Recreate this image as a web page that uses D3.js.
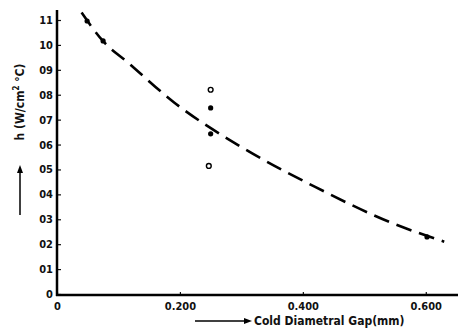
<!DOCTYPE html>
<html>
<head>
<meta charset="utf-8">
<script src="https://cdn.jsdelivr.net/npm/d3@7"></script>
<style>
  body { margin: 0; background: #fff; }
  svg { display: block; }
  text { font-family: "DejaVu Sans Condensed", "DejaVu Sans", sans-serif; font-weight: bold; fill: #111; }
</style>
</head>
<body>
<svg></svg>
<script>
/* data */
var yTicks = [0, 0.1, 0.2, 0.3, 0.4, 0.5, 0.6, 0.7, 0.8, 0.9, 1.0, 1.1];
var yTickLabels = ["0", "01", "02", "03", "04", "05", "06", "07", "08", "09", "10", "11"];
var xTicks = [0, 0.2, 0.4, 0.6];
var xTickLabels = ["0", "0.200", "0.400", "0.600"];

// dashed fit curve
var curveX = [0.04, 0.075, 0.115, 0.19, 0.3, 0.42, 0.545, 0.63];
var curveY = [1.13, 1.015, 0.93, 0.77, 0.59, 0.43, 0.285, 0.21];

// measured points
var filledX = [0.049, 0.075, 0.25, 0.25, 0.602];
var filledY = [1.096, 1.016, 0.747, 0.643, 0.229];
var openX = [0.25, 0.247];
var openY = [0.82, 0.514];

/* svg setting */
var svgWidth = 458;
var svgHeight = 334;

var svg = d3.select("svg")
    .attr("width", svgWidth)
    .attr("height", svgHeight);

var scale = {};
scale.x = d3.scaleLinear().domain([0, 0.615]).range([57, 435]);
scale.y = d3.scaleLinear().domain([0, 1.1]).range([294, 20]);

/* axes */
var yAxis = svg.append("g")
    .attr("transform", translate(57, 0))
    .call(d3.axisLeft(scale.y)
      .tickValues(yTicks)
      .tickSize(-4)
      .tickPadding(8)
      .tickFormat(function(d, i){ return yTickLabels[i]; }));
yAxis.select(".domain").remove();
yAxis.selectAll("line").attr("stroke", "#111").attr("stroke-width", 1.2);
yAxis.selectAll("text").style("font-size", "11px").attr("x", -4);

var xAxis = svg.append("g")
    .attr("transform", translate(0, 295))
    .call(d3.axisBottom(scale.x)
      .tickValues(xTicks)
      .tickSize(-3)
      .tickPadding(6)
      .tickFormat(function(d, i){ return xTickLabels[i]; }));
xAxis.select(".domain").remove();
xAxis.selectAll("line").attr("stroke", "#111").attr("stroke-width", 1.2);
xAxis.selectAll("text").style("font-size", "11px").attr("dy", "0.85em");

// heavy axis lines
svg.append("line")
    .attr("x1", 57).attr("x2", 57)
    .attr("y1", 10).attr("y2", 296)
    .attr("stroke", "#000").attr("stroke-width", 2.5);
svg.append("line")
    .attr("x1", 56).attr("x2", 458)
    .attr("y1", 295).attr("y2", 295)
    .attr("stroke", "#000").attr("stroke-width", 2.5);

/* dashed curve */
var curveData = curveX.map(function(x, i){ return {x: x, y: curveY[i]}; });
var line = d3.line()
    .x(function(d){ return scale.x(d.x); })
    .y(function(d){ return scale.y(d.y); })
    .curve(d3.curveMonotoneX);

svg.append("path")
    .datum(curveData)
    .attr("d", line)
    .attr("fill", "none")
    .attr("stroke", "#000")
    .attr("stroke-width", 2.6)
    .attr("stroke-dasharray", "16,8");

/* points */
svg.selectAll("circle.filled")
    .data(filledX.map(function(x, i){ return {x: x, y: filledY[i]}; }))
    .enter()
    .append("circle")
    .attr("class", "filled")
    .attr("cx", function(d){ return scale.x(d.x); })
    .attr("cy", function(d){ return scale.y(d.y); })
    .attr("r", 2.6)
    .attr("fill", "#000");

svg.selectAll("circle.open")
    .data(openX.map(function(x, i){ return {x: x, y: openY[i]}; }))
    .enter()
    .append("circle")
    .attr("class", "open")
    .attr("cx", function(d){ return scale.x(d.x); })
    .attr("cy", function(d){ return scale.y(d.y); })
    .attr("r", 2.4)
    .attr("fill", "#fff")
    .attr("stroke", "#000")
    .attr("stroke-width", 1.4);

/* axis titles */
var yTitle = svg.append("text")
    .attr("transform", translate(24, 102) + " rotate(-90)")
    .attr("text-anchor", "middle")
    .style("font-size", "12px");
yTitle.append("tspan").text("h (W/cm");
yTitle.append("tspan").attr("dy", -5).style("font-size", "8px").text("2");
yTitle.append("tspan").attr("dy", 5).text(" \u00b0C)");

// up arrow under the y title
svg.append("line")
    .attr("x1", 20).attr("x2", 20)
    .attr("y1", 215).attr("y2", 170)
    .attr("stroke", "#000").attr("stroke-width", 1.5);
svg.append("path")
    .attr("d", "M20,165 L17,173 L23,173 Z")
    .attr("fill", "#000");

// right arrow before the x title
svg.append("line")
    .attr("x1", 195).attr("x2", 246)
    .attr("y1", 321).attr("y2", 321)
    .attr("stroke", "#000").attr("stroke-width", 1.5);
svg.append("path")
    .attr("d", "M252,321 L244,318 L244,324 Z")
    .attr("fill", "#000");

svg.append("text")
    .attr("x", 254)
    .attr("y", 325)
    .style("font-size", "12px")
    .text("Cold Diametral Gap(mm)");

function translate(x, y) {
    return "translate(" + x + "," + y + ")";
}
</script>
</body>
</html>
